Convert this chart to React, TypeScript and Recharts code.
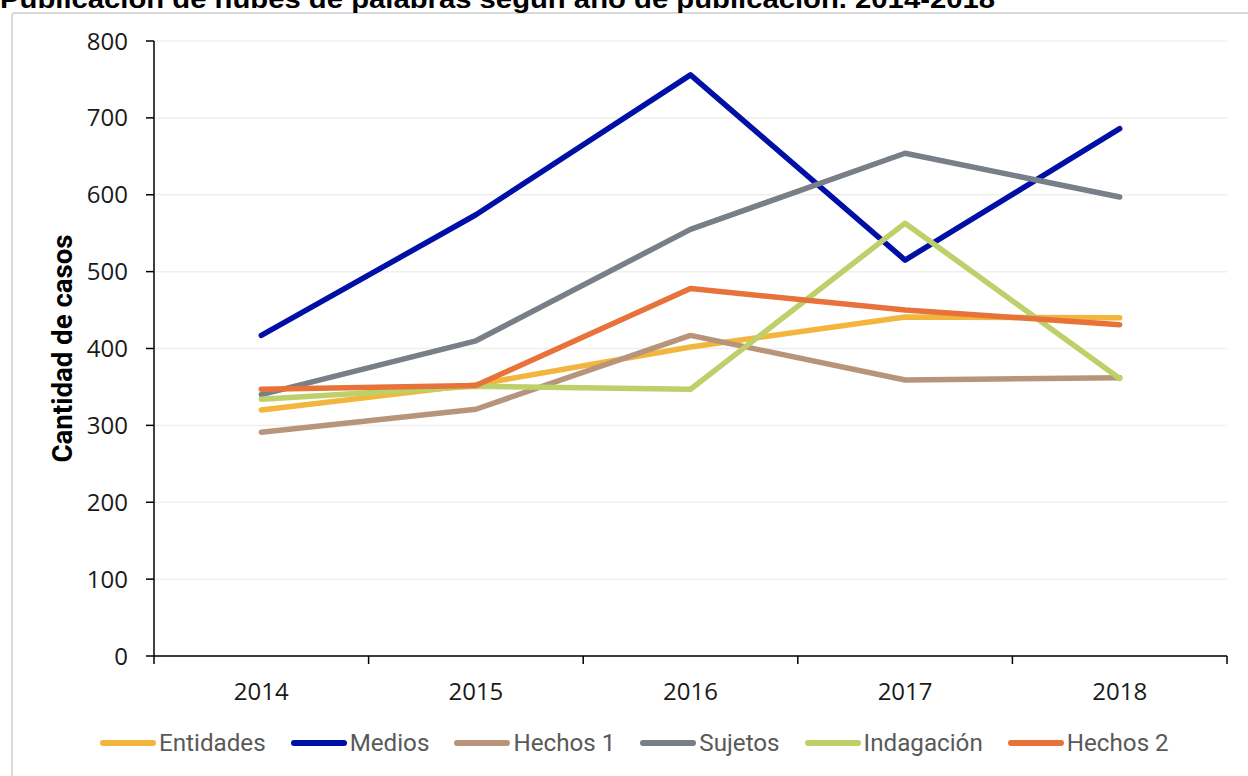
import React from "react";
import { CartesianGrid, Line, LineChart, XAxis, YAxis } from "recharts";

const years = ["2014", "2015", "2016", "2017", "2018"];
const entidades = [320, 353, 402, 441, 440];
const medios = [417, 574, 756, 515, 686];
const hechos1 = [291, 321, 417, 359, 362];
const sujetos = [340, 410, 555, 654, 597];
const indagacion = [334, 351, 347, 563, 361];
const hechos2 = [347, 352, 478, 450, 431];
const yTicks = [0, 100, 200, 300, 400, 500, 600, 700, 800];

const seriesNames = ["Entidades", "Medios", "Hechos 1", "Sujetos", "Indagación", "Hechos 2"];
const seriesValues = [entidades, medios, hechos1, sujetos, indagacion, hechos2];
const seriesColors = ["#F2B63E", "#0010A6", "#B8957A", "#787F88", "#BED06A", "#E8733A"];

const title = "Publicación de nubes de palabras según año de publicación. 2014-2018";
const yLabel = "Cantidad de casos";

const W = 1248;
const H = 776;
const margin = { top: 41, right: 21, bottom: 80, left: 74 };
const yAxisW = 80;
const xAxisH = 40;
const plotW = W - margin.left - yAxisW - margin.right;
const bandW = plotW / years.length;

const data = years.map((year, i) => {
  const row: Record<string, string | number> = { year };
  seriesNames.forEach((name, s) => {
    row[name] = seriesValues[s][i];
  });
  return row;
});

const tickFont = "'Open Sans', 'DejaVu Sans', sans-serif";
const labelFont = "Roboto, 'Liberation Sans', sans-serif";

function XTick(props: any) {
  const { x, y, payload, index } = props;
  const last = index === years.length - 1;
  return (
    <g>
      <line x1={x - bandW / 2} x2={x - bandW / 2} y1={y} y2={y + 8} stroke="#000" strokeWidth={1.5} />
      {last && <line x1={x + bandW / 2} x2={x + bandW / 2} y1={y} y2={y + 8} stroke="#000" strokeWidth={1.5} />}
      <text x={x} y={y + 34} textAnchor="middle" dominantBaseline="central" fontSize={24} fontFamily={tickFont} fill="#1a1a1a">
        {payload.value}
      </text>
    </g>
  );
}

function YLabel(props: any) {
  const { viewBox } = props;
  const x = viewBox.x - 11;
  const y = viewBox.y + viewBox.height / 2;
  return (
    <text
      x={x}
      y={y}
      transform={`rotate(-90 ${x} ${y})`}
      textAnchor="middle"
      dominantBaseline="central"
      fontSize={27}
      fontWeight="bold"
      fontFamily={labelFont}
      fill="#000"
      textLength={228}
      lengthAdjust="spacingAndGlyphs"
    >
      {yLabel}
    </text>
  );
}

function LegendRow() {
  return (
    <div
      style={{
        position: "absolute",
        left: 100,
        top: 729,
        display: "flex",
        alignItems: "center",
        gap: 25,
        fontFamily: labelFont,
        fontSize: 24.2,
        color: "#595959",
        whiteSpace: "nowrap",
      }}
    >
      {seriesNames.map((name, i) => (
        <div key={name} style={{ display: "flex", alignItems: "center", gap: 3 }}>
          <svg width={56} height={10}>
            <line x1={3} x2={53} y1={5} y2={5} stroke={seriesColors[i]} strokeWidth={6} strokeLinecap="round" />
          </svg>
          <span>{name}</span>
        </div>
      ))}
    </div>
  );
}

export default function App() {
  return (
    <div style={{ position: "absolute", left: 0, top: 0, width: W, height: H, overflow: "hidden", background: "#fff" }}>
      <div
        style={{
          position: "absolute",
          left: 11,
          top: 12,
          width: W + 20,
          height: H + 20,
          border: "2px solid #d9d9d9",
          borderRadius: 4,
        }}
      />
      <svg style={{ position: "absolute", left: 0, top: 0 }} width={W} height={20}>
        <text x={0} y={8} fontSize={25} fontWeight="bold" fontFamily="'Liberation Sans', Arial, sans-serif" fill="#000" textLength={995} lengthAdjust="spacingAndGlyphs">
          {title}
        </text>
      </svg>
      <div style={{ position: "absolute", left: 0, top: 0 }}>
        <LineChart width={W} height={H} data={data} margin={margin}>
          <CartesianGrid vertical={false} stroke="#efefef" strokeWidth={1.5} />
          <XAxis
            dataKey="year"
            scale="band"
            height={xAxisH}
            axisLine={{ stroke: "#000", strokeWidth: 1.5 }}
            tickLine={false}
            tickSize={0}
            tickMargin={0}
            tick={<XTick />}
            interval={0}
          />
          <YAxis
            width={yAxisW}
            domain={[0, 800]}
            ticks={yTicks}
            axisLine={{ stroke: "#000", strokeWidth: 1.5 }}
            tickLine={{ stroke: "#000", strokeWidth: 1.5 }}
            tickSize={8}
            tickMargin={18}
            tick={{ fontSize: 24, fontFamily: tickFont, fill: "#1a1a1a" }}
            label={<YLabel />}
          />
          {seriesNames.map((name, i) => (
            <Line
              key={name}
              dataKey={name}
              stroke={seriesColors[i]}
              strokeWidth={5.5}
              strokeLinecap="round"
              strokeLinejoin="round"
              dot={false}
              activeDot={false}
              isAnimationActive={false}
            />
          ))}
        </LineChart>
      </div>
      <LegendRow />
    </div>
  );
}
